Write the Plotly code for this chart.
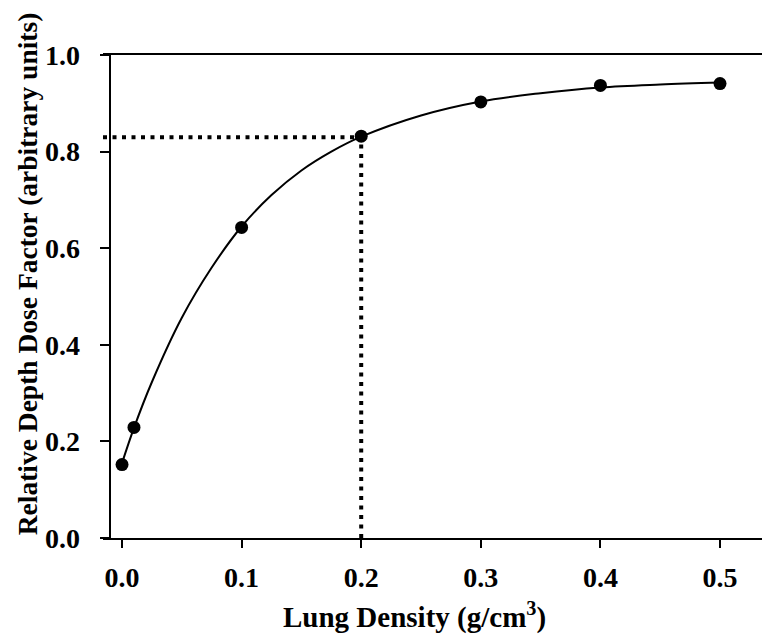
import plotly.graph_objects as go

# Messpunkte
dichte = [0.0, 0.01, 0.1, 0.2, 0.3, 0.4, 0.5]
faktor = [0.152, 0.229, 0.643, 0.832, 0.903, 0.937, 0.941]

# Angepasste Kurve
kurve_x = [0.0, 0.01, 0.025, 0.05, 0.075, 0.1, 0.125, 0.15, 0.175, 0.2, 0.25, 0.3, 0.35, 0.4, 0.45, 0.5]
kurve_y = [0.155, 0.228, 0.323, 0.456, 0.560, 0.645, 0.710, 0.761, 0.800, 0.831, 0.875, 0.904, 0.921, 0.933, 0.939, 0.943]

# Hilfslinien
ref_x = 0.2
ref_y = 0.83

x_bereich = [-0.0159, 0.5418]
y_bereich = [0.0, 1.0001]

schrift = "Liberation Serif, Times New Roman, serif"
punkte_linie = dict(color="black", width=4, dash="4px,5.5px")

daten = [
    go.Scatter(x=[x_bereich[0], ref_x], y=[ref_y, ref_y], mode="lines",
               line=punkte_linie, hoverinfo="skip"),
    go.Scatter(x=[ref_x, ref_x], y=[0, ref_y], mode="lines",
               line=punkte_linie, hoverinfo="skip"),
    go.Scatter(x=kurve_x, y=kurve_y, mode="lines",
               line=dict(color="black", width=2, shape="spline")),
    go.Scatter(x=dichte, y=faktor, mode="markers",
               marker=dict(color="black", size=13), cliponaxis=False),
]

# Seite hat 8px Rand -> Figur etwas kleiner
layout = go.Layout(
    width=762,
    height=627,
    margin=dict(l=95, r=0, t=47, b=97),
    showlegend=False,
    plot_bgcolor="white",
    paper_bgcolor="white",
    xaxis=dict(
        range=x_bereich,
        tick0=0, dtick=0.1, tickformat=".1f",
        showgrid=False, zeroline=False,
        showline=True, linecolor="black", linewidth=2, mirror=True,
        ticks="outside", ticklen=8, tickwidth=2, tickcolor="black",
        tickfont=dict(family=schrift, size=28, color="black", weight="bold"),
        ticklabelstandoff=5,
    ),
    yaxis=dict(
        range=y_bereich,
        anchor="free", position=0.01124,
        tick0=0, dtick=0.2, tickformat=".1f",
        showgrid=False, zeroline=False,
        showline=True, linecolor="black", linewidth=2,
        ticks="outside", ticklen=9, tickwidth=2, tickcolor="black",
        tickfont=dict(family=schrift, size=28, color="black", weight="bold"),
        ticklabelstandoff=15,
    ),
    annotations=[
        dict(text="Lung Density (g/cm<sup>3</sup>)", xref="paper", yref="paper",
             x=0.4663, y=-0.16, xanchor="center", yanchor="middle", showarrow=False,
             font=dict(family=schrift, size=29, color="black", weight="bold")),
        dict(text="Relative Depth Dose Factor (arbitrary units)", xref="paper", yref="paper",
             x=-0.114, y=0.548, textangle=-90, xanchor="center", yanchor="middle",
             showarrow=False,
             font=dict(family=schrift, size=27.5, color="black", weight="bold")),
    ],
)

fig = go.Figure(data=daten, layout=layout)
fig.write_html("out.html")
